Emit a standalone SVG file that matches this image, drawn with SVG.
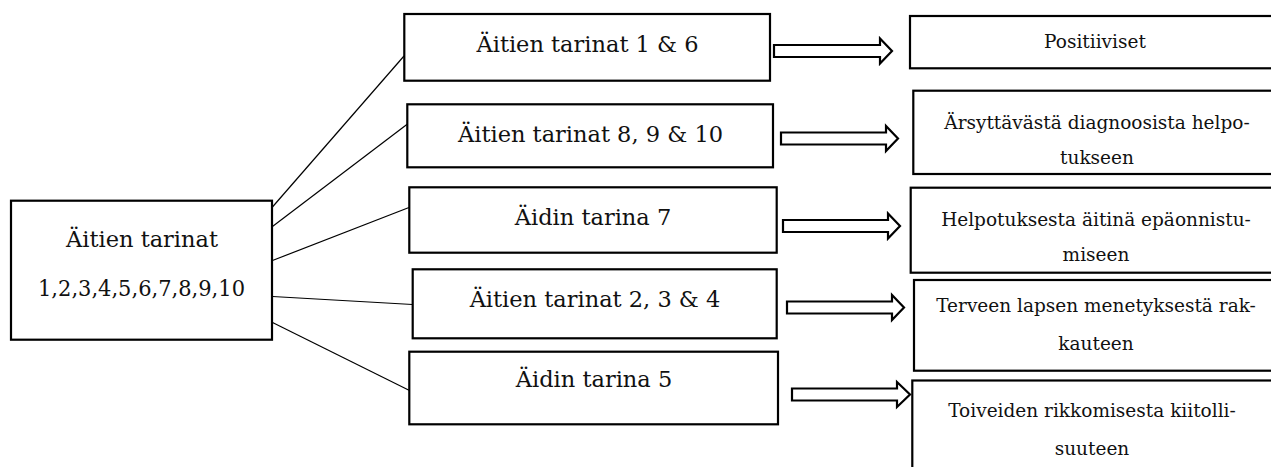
<svg xmlns="http://www.w3.org/2000/svg" width="1271" height="467" viewBox="0 0 1271 467">
<style>
.box{fill:#fff;stroke:#000;stroke-width:2.2}
.arr{fill:#fff;stroke:#000;stroke-width:2.2;stroke-linejoin:miter}
.ln{stroke:#000;stroke-width:1.2;fill:none}
.t{font-family:"DejaVu Serif","Liberation Serif",serif;fill:#111;text-anchor:middle}
.big{font-size:22.5px}
.sm{font-size:18.5px}
</style>
<rect width="1271" height="467" fill="#fff"/>
<g id="connectors">
<line class="ln" x1="272" y1="207.5" x2="404" y2="56"/>
<line class="ln" x1="268.5" y1="229.5" x2="407.5" y2="124"/>
<line class="ln" x1="272.5" y1="260.5" x2="409" y2="207.5"/>
<line class="ln" x1="272.5" y1="296.5" x2="412.5" y2="304.5"/>
<line class="ln" x1="268.5" y1="320.5" x2="409.5" y2="390.5"/>
<polygon class="arr" points="774,45 880,45 880,38.5 892,51 880,63.5 880,57 774,57"/>
<polygon class="arr" points="781,132.5 886,132.5 886,126 898,138.5 886,151 886,144.5 781,144.5"/>
<polygon class="arr" points="783,220 888,220 888,213.5 900,226 888,238.5 888,232 783,232"/>
<polygon class="arr" points="787,301.5 892,301.5 892,295 904,307.5 892,320 892,313.5 787,313.5"/>
<polygon class="arr" points="792,388.5 897,388.5 897,382 910,394.5 897,407 897,400.5 792,400.5"/>
</g>
<g id="root">
<rect class="box" x="11" y="200.7" width="261" height="139"/>
<text class="t big" x="142" y="246.5">Äitien tarinat</text>
<text class="t big" x="141.5" y="295.5" textLength="207" lengthAdjust="spacingAndGlyphs">1,2,3,4,5,6,7,8,9,10</text>
</g>
<g id="m1">
<rect class="box" x="404.3" y="14" width="365.7" height="66.7"/>
<text class="t big" x="587.5" y="51.7">Äitien tarinat 1 &amp; 6</text>
</g>
<g id="m2">
<rect class="box" x="407.3" y="104.3" width="365.7" height="63"/>
<text class="t big" x="590.5" y="141.7">Äitien tarinat 8, 9 &amp; 10</text>
</g>
<g id="m3">
<rect class="box" x="409.3" y="187.3" width="367.4" height="65.4"/>
<text class="t big" x="593" y="225">Äidin tarina 7</text>
</g>
<g id="m4">
<rect class="box" x="412.7" y="269.3" width="364" height="69"/>
<text class="t big" x="595" y="306.7">Äitien tarinat 2, 3 &amp; 4</text>
</g>
<g id="m5">
<rect class="box" x="409.3" y="351.7" width="368.7" height="72.6"/>
<text class="t big" x="594" y="386.7">Äidin tarina 5</text>
</g>
<g id="r1">
<rect class="box" x="910" y="16" width="380" height="52.3"/>
<text class="t sm" x="1095" y="48.3">Positiiviset</text>
</g>
<g id="r2">
<rect class="box" x="913.3" y="90.7" width="380" height="83.3"/>
<text class="t sm" x="1097" y="128.5">Ärsyttävästä diagnoosista helpo-</text>
<text class="t sm" x="1097" y="164">tukseen</text>
</g>
<g id="r3">
<rect class="box" x="910.7" y="187.7" width="380" height="85"/>
<text class="t sm" x="1096" y="226">Helpotuksesta äitinä epäonnistu-</text>
<text class="t sm" x="1096" y="260.5">miseen</text>
</g>
<g id="r4">
<rect class="box" x="914" y="280" width="380" height="90.7"/>
<text class="t sm" x="1096" y="312">Terveen lapsen menetyksestä rak-</text>
<text class="t sm" x="1096" y="350">kauteen</text>
</g>
<g id="r5">
<rect class="box" x="912.3" y="380.5" width="380" height="110"/>
<text class="t sm" x="1092" y="417">Toiveiden rikkomisesta kiitolli-</text>
<text class="t sm" x="1092" y="455">suuteen</text>
</g>
</svg>
